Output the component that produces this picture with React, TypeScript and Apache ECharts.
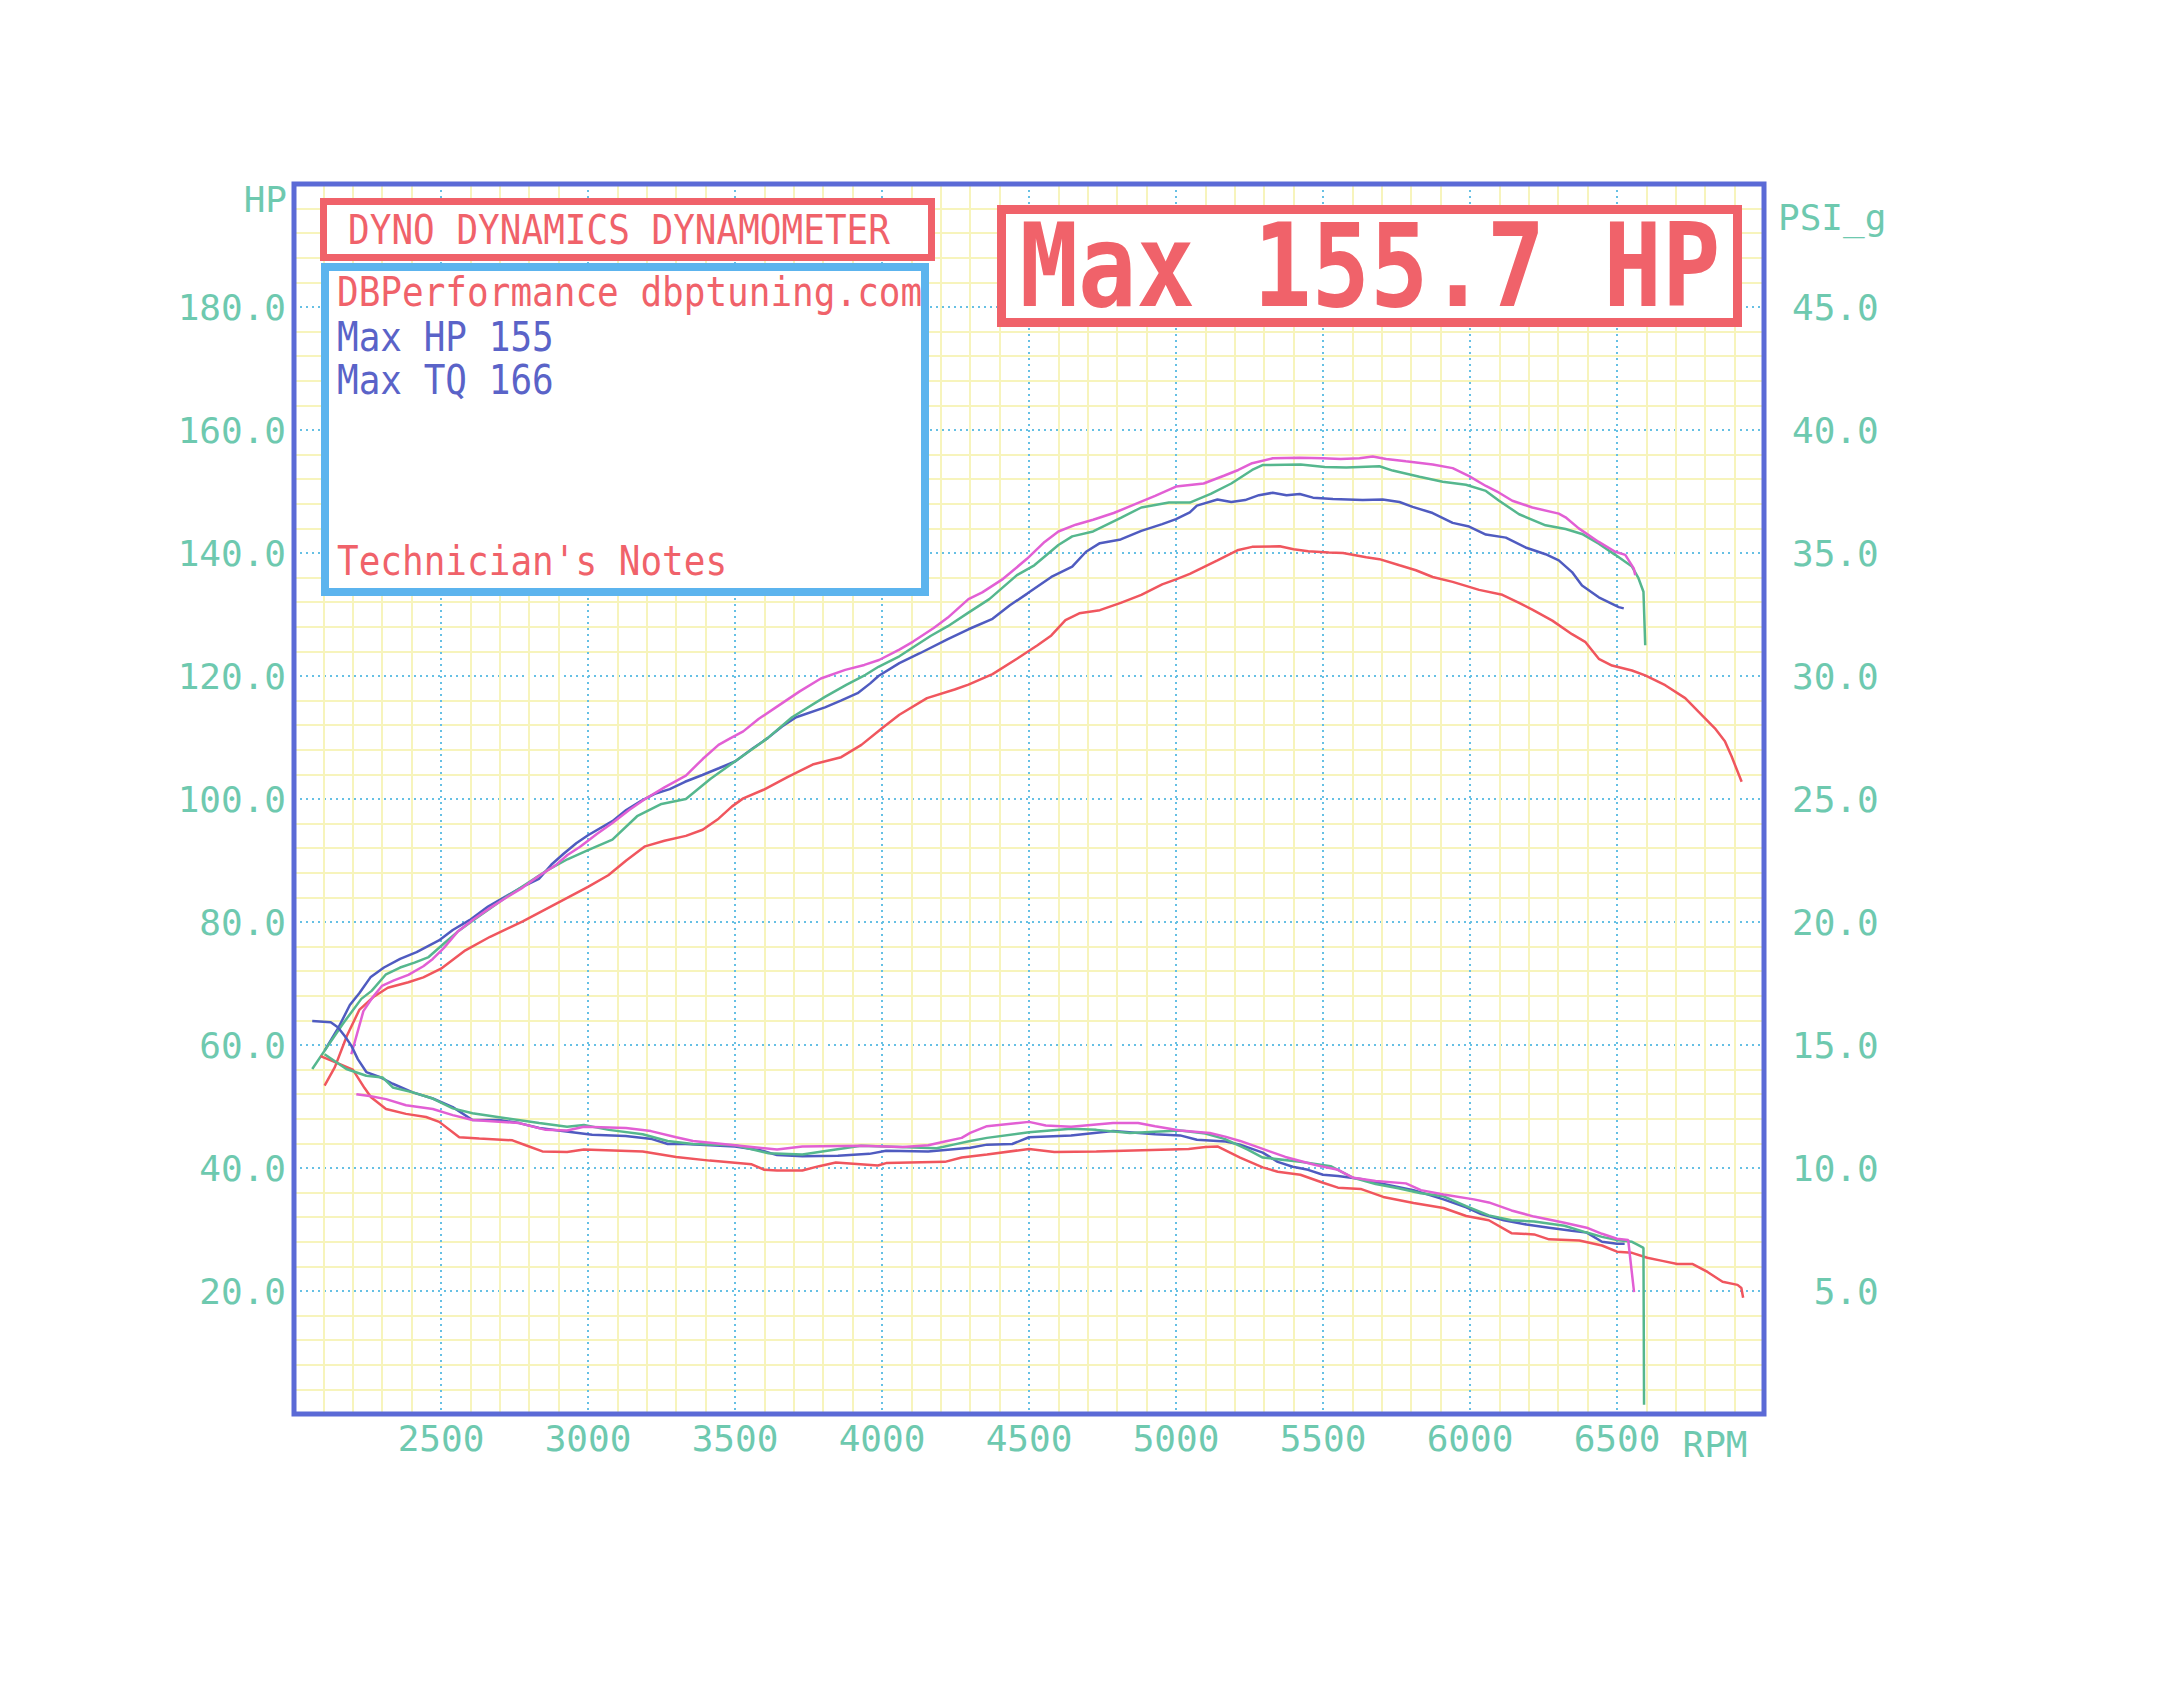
import React, { useEffect, useRef } from "react";
import * as echarts from "echarts";

// ---- Data (rpm, value on HP scale) ----
const magentaPower = [
  [2195, 58.5], [2236, 65.5], [2268, 67.8], [2299, 69.6], [2340, 70.5], [2389, 71.4], [2440, 72.8], [2472, 74.0],
  [2510, 75.8], [2556, 78.4], [2610, 80.4], [2667, 82.3], [2720, 83.9], [2778, 85.6], [2830, 87.4], [2889, 89.2],
  [2930, 90.9], [2972, 92.2], [3030, 94.3], [3083, 96.1], [3140, 98.2], [3194, 100.0], [3260, 101.9], [3333, 103.8],
  [3390, 106.5], [3444, 108.8], [3485, 109.9], [3528, 111.0], [3580, 113.0], [3639, 114.9], [3720, 117.5], [3792, 119.6],
  [3875, 121.0], [3940, 121.8], [3990, 122.6], [4059, 124.3], [4106, 125.6], [4176, 127.8], [4224, 129.5], [4294, 132.5],
  [4341, 133.6], [4412, 135.8], [4494, 139.1], [4553, 141.8], [4600, 143.5], [4659, 144.6], [4718, 145.4], [4788, 146.5],
  [4859, 147.9], [4929, 149.3], [5000, 150.8], [5094, 151.3], [5165, 152.6], [5212, 153.5], [5259, 154.6], [5329, 155.4],
  [5420, 155.5], [5500, 155.4], [5560, 155.3], [5624, 155.4], [5669, 155.7], [5715, 155.3], [5782, 154.9], [5873, 154.4],
  [5941, 153.8], [5997, 152.5], [6054, 150.9], [6099, 149.8], [6144, 148.5], [6212, 147.4], [6302, 146.4], [6325, 145.8],
  [6370, 144.0], [6438, 141.8], [6494, 140.2], [6528, 139.7], [6557, 137.5], [6562, 136.4],
];
const greenPower = [
  [2062, 56.1], [2110, 59.5], [2167, 63.5], [2229, 67.5], [2264, 68.8], [2313, 71.5], [2361, 72.6], [2410, 73.4],
  [2458, 74.3], [2510, 76.5], [2556, 78.4], [2610, 80.3], [2667, 82.2], [2720, 84.0], [2778, 85.8], [2861, 88.4],
  [2930, 90.2], [3000, 91.7], [3083, 93.4], [3167, 97.2], [3250, 99.2], [3333, 100.0], [3417, 103.3], [3514, 106.6],
  [3611, 109.9], [3694, 113.3], [3806, 116.6], [3880, 118.6], [3944, 120.2], [3988, 121.5], [4059, 123.2], [4165, 126.5],
  [4224, 128.1], [4294, 130.3], [4365, 132.5], [4459, 136.4], [4518, 138.0], [4600, 141.3], [4647, 142.7], [4718, 143.5],
  [4812, 145.7], [4882, 147.4], [4976, 148.2], [5047, 148.2], [5118, 149.6], [5188, 151.3], [5259, 153.5], [5294, 154.3],
  [5424, 154.4], [5506, 154.0], [5579, 153.9], [5692, 154.1], [5737, 153.4], [5828, 152.4], [5907, 151.6], [5986, 151.1],
  [6054, 150.1], [6099, 148.5], [6167, 146.3], [6257, 144.5], [6325, 143.9], [6381, 143.1], [6438, 141.5], [6494, 139.7],
  [6551, 137.8], [6573, 135.9], [6590, 133.7], [6596, 125.0],
];
const bluePower = [
  [2104, 59.1], [2153, 63.0], [2190, 66.5], [2222, 68.4], [2260, 71.0], [2306, 72.6], [2361, 74.0], [2417, 75.1],
  [2493, 77.0], [2540, 78.7], [2597, 80.3], [2660, 82.5], [2722, 84.2], [2780, 85.8], [2833, 87.0], [2875, 89.3],
  [2917, 91.1], [2960, 92.8], [3000, 94.1], [3083, 96.4], [3130, 98.2], [3181, 99.7], [3230, 100.9], [3278, 101.6],
  [3330, 102.8], [3389, 103.9], [3445, 105.0], [3500, 106.1], [3560, 108.2], [3611, 109.9], [3660, 111.8], [3708, 113.3],
  [3806, 114.9], [3860, 116.0], [3917, 117.2], [3960, 118.8], [3988, 120.0], [4059, 122.1], [4129, 123.7], [4224, 126.0],
  [4294, 127.6], [4376, 129.3], [4435, 131.5], [4494, 133.4], [4576, 136.1], [4647, 137.8], [4694, 140.2], [4741, 141.6],
  [4812, 142.2], [4882, 143.6], [4953, 144.7], [5000, 145.5], [5047, 146.6], [5071, 147.7], [5141, 148.7], [5188, 148.3],
  [5235, 148.6], [5282, 149.4], [5329, 149.8], [5376, 149.4], [5421, 149.6], [5466, 149.0], [5534, 148.8], [5635, 148.6],
  [5703, 148.7], [5760, 148.3], [5805, 147.5], [5873, 146.5], [5941, 144.9], [5997, 144.3], [6054, 143.0], [6122, 142.5],
  [6189, 140.9], [6257, 139.8], [6302, 138.8], [6347, 136.9], [6381, 134.7], [6438, 132.8], [6506, 131.2], [6523, 131.0],
];
const redPower = [
  [2104, 53.4], [2139, 56.4], [2180, 61.5], [2222, 65.7], [2270, 67.8], [2319, 69.3], [2389, 70.2], [2440, 71.0],
  [2500, 72.4], [2583, 75.4], [2667, 77.6], [2778, 80.1], [2889, 82.9], [3000, 85.7], [3069, 87.6], [3130, 90.0],
  [3194, 92.3], [3260, 93.2], [3333, 94.0], [3390, 95.0], [3444, 96.8], [3490, 98.8], [3528, 100.1], [3597, 101.5],
  [3680, 103.6], [3764, 105.6], [3861, 106.8], [3930, 108.8], [4000, 111.5], [4059, 113.7], [4153, 116.4], [4247, 117.8],
  [4294, 118.6], [4376, 120.3], [4459, 122.8], [4529, 125.0], [4576, 126.6], [4624, 129.1], [4671, 130.2], [4741, 130.7],
  [4812, 131.9], [4882, 133.2], [4953, 134.9], [5000, 135.7], [5047, 136.6], [5094, 137.7], [5141, 138.8], [5212, 140.5],
  [5259, 141.0], [5353, 141.1], [5400, 140.6], [5450, 140.3], [5520, 140.1], [5568, 140.0], [5647, 139.3], [5692, 139.0],
  [5760, 138.0], [5816, 137.2], [5873, 136.1], [5941, 135.3], [6031, 134.0], [6110, 133.2], [6167, 131.9], [6212, 130.8],
  [6280, 129.0], [6347, 126.8], [6393, 125.5], [6438, 122.8], [6483, 121.7], [6551, 120.9], [6596, 120.1], [6664, 118.5],
  [6732, 116.4], [6777, 114.2], [6833, 111.5], [6867, 109.4], [6890, 106.9], [6924, 102.8],
];

const magentaLower = [
  [2212, 52.0], [2257, 51.7], [2313, 51.2], [2381, 50.2], [2472, 49.6], [2540, 48.6], [2607, 47.8], [2766, 47.3],
  [2856, 46.2], [2929, 46.1], [2986, 46.7], [3129, 46.5], [3214, 46.0], [3300, 45.0], [3357, 44.4], [3500, 43.7],
  [3643, 43.0], [3729, 43.5], [3929, 43.6], [4071, 43.4], [4157, 43.7], [4214, 44.3], [4271, 44.9], [4300, 45.7],
  [4357, 46.8], [4500, 47.5], [4557, 46.9], [4643, 46.7], [4786, 47.3], [4871, 47.3], [4929, 46.8], [5014, 46.1],
  [5115, 45.7], [5167, 45.1], [5218, 44.4], [5295, 43.1], [5372, 41.8], [5474, 40.5], [5551, 39.7], [5603, 38.4],
  [5679, 37.9], [5782, 37.5], [5833, 36.4], [5910, 35.7], [6013, 34.9], [6064, 34.4], [6141, 33.1], [6218, 32.1],
  [6321, 31.1], [6397, 30.3], [6449, 29.3], [6500, 28.5], [6538, 28.3], [6558, 19.8],
];
const greenLower = [
  [2104, 58.5], [2178, 56.1], [2246, 55.0], [2302, 54.7], [2336, 53.1], [2404, 52.3], [2472, 51.3], [2540, 49.7],
  [2607, 48.9], [2721, 48.1], [2834, 47.3], [2929, 46.7], [2986, 47.0], [3071, 46.2], [3186, 45.5], [3271, 44.4],
  [3357, 43.9], [3500, 43.7], [3614, 42.4], [3729, 42.2], [3814, 42.8], [3929, 43.6], [4186, 43.2], [4243, 43.8],
  [4300, 44.4], [4357, 44.9], [4500, 45.8], [4643, 46.4], [4729, 46.2], [4843, 45.7], [5014, 46.1], [5100, 45.6],
  [5167, 44.7], [5244, 43.0], [5295, 41.7], [5423, 41.0], [5526, 40.3], [5603, 38.4], [5679, 37.4], [5756, 36.7],
  [5833, 35.9], [5910, 35.4], [5987, 33.8], [6064, 32.3], [6141, 31.5], [6218, 31.3], [6321, 30.6], [6397, 29.5],
  [6449, 28.8], [6500, 28.3], [6551, 28.0], [6571, 27.5], [6590, 27.0], [6592, 1.5],
];
const blueLower = [
  [2062, 63.9], [2125, 63.7], [2149, 62.9], [2172, 61.5], [2195, 59.9], [2217, 57.7], [2246, 55.6], [2291, 54.8],
  [2336, 53.7], [2404, 52.3], [2472, 51.3], [2540, 49.9], [2607, 47.8], [2698, 47.8], [2766, 47.3], [2834, 46.5],
  [2913, 46.0], [3014, 45.4], [3128, 45.2], [3218, 44.7], [3271, 43.9], [3331, 43.9], [3500, 43.5], [3586, 42.9],
  [3643, 42.1], [3729, 41.9], [3850, 42.0], [3957, 42.3], [4014, 42.8], [4157, 42.7], [4300, 43.3], [4357, 43.8],
  [4443, 43.9], [4500, 45.0], [4643, 45.3], [4786, 46.0], [4929, 45.5], [5014, 45.3], [5071, 44.6], [5169, 44.3],
  [5218, 43.8], [5295, 42.5], [5346, 41.0], [5397, 40.2], [5449, 39.7], [5500, 38.9], [5551, 38.7], [5628, 38.2],
  [5705, 37.4], [5808, 36.4], [5910, 34.9], [5987, 33.6], [6038, 32.5], [6115, 31.5], [6192, 30.8], [6269, 30.3],
  [6346, 29.8], [6397, 29.5], [6449, 28.0], [6500, 27.7], [6526, 27.7],
];
const redLower = [
  [2090, 58.2], [2150, 57.0], [2200, 56.0], [2240, 53.0], [2262, 51.5], [2313, 49.6], [2381, 48.8], [2449, 48.3],
  [2494, 47.5], [2562, 45.0], [2630, 44.8], [2743, 44.5], [2788, 43.7], [2845, 42.7], [2929, 42.6], [2986, 43.0],
  [3186, 42.7], [3300, 41.8], [3414, 41.2], [3557, 40.6], [3600, 39.7], [3643, 39.6], [3729, 39.6], [3786, 40.3],
  [3843, 40.9], [3986, 40.4], [4014, 40.8], [4214, 41.0], [4271, 41.7], [4357, 42.2], [4500, 43.1], [4586, 42.6],
  [4729, 42.7], [5043, 43.1], [5100, 43.4], [5141, 43.5], [5218, 41.7], [5295, 40.1], [5346, 39.4], [5423, 38.9],
  [5500, 37.6], [5551, 36.8], [5628, 36.6], [5705, 35.3], [5808, 34.3], [5910, 33.5], [5987, 32.2], [6064, 31.5],
  [6141, 29.4], [6218, 29.2], [6269, 28.4], [6372, 28.2], [6449, 27.4], [6500, 26.4], [6551, 26.2], [6603, 25.4],
  [6654, 24.9], [6705, 24.4], [6756, 24.4], [6808, 23.1], [6859, 21.5], [6910, 21.0], [6923, 20.5], [6929, 18.9],
];

const infoLines = ["DBPerformance dbptuning.com", "Max HP 155", "Max TQ 166", "Technician's Notes"];
const titleText = "DYNO DYNAMICS DYNAMOMETER";
const maxText = "Max 155.7 HP";

// ---- Style ----
const MONO = '"DejaVu Sans Mono", "Liberation Mono", monospace';
const TEAL = "#6ec9af";
const RED = "#f0626a";
const BLUE_TXT = "#5a63c8";
const FRAME = "#5b6ad6";
const BOX_BLUE = "#5cb4ee";
const MAJOR = "#66c0e4";
const MINOR = "#f7f4bc";
const C_MAG = "#e25fd4";
const C_GRN = "#55b78e";
const C_BLU = "#4f5bc0";
const C_RED = "#f0565e";
const GRID = { left: 294, top: 184, width: 1470, height: 1230 };

function txt(text: string, x: number, y: number, size: number, color: string, align: string, sy = 1, weight = "normal") {
  return {
    type: "text",
    z: 70,
    x,
    y,
    scaleY: sy,
    style: {
      text,
      fill: color,
      fontFamily: MONO,
      fontSize: size,
      fontWeight: weight,
      textAlign: align,
      align,
      textVerticalAlign: "middle",
      verticalAlign: "middle",
    },
  };
}

export default function App() {
  const ref = useRef<HTMLDivElement>(null);
  useEffect(() => {
    if (!ref.current) return;
    const chart = echarts.init(ref.current, undefined, { renderer: "svg" });
    const line = (name: string, data: number[][], color: string) => ({
      name,
      type: "line",
      data,
      showSymbol: false,
      symbol: "none",
      lineStyle: { color, width: 2.5 },
      itemStyle: { color },
      z: 5,
    });
    chart.setOption({
      animation: false,
      backgroundColor: "#ffffff",
      grid: { ...GRID, show: false },
      xAxis: {
        type: "value",
        min: 2000,
        max: 7000,
        interval: 500,
        axisLine: { show: false },
        axisTick: { show: false },
        axisLabel: {
          color: TEAL,
          fontFamily: MONO,
          fontSize: 36,
          margin: 6,
          showMinLabel: false,
          showMaxLabel: false,
          formatter: (v: number) => String(v),
        },
        splitLine: { show: true, lineStyle: { color: MAJOR, width: 2, type: [2, 4] } },
        minorTick: { show: false, splitNumber: 5 },
        minorSplitLine: { show: true, lineStyle: { color: MINOR, width: 2 } },
      },
      yAxis: [
        {
          type: "value",
          min: 0,
          max: 200,
          interval: 20,
          position: "left",
          axisLine: { show: false },
          axisTick: { show: false },
          axisLabel: {
            color: TEAL,
            fontFamily: MONO,
            fontSize: 36,
            margin: 8,
            showMinLabel: false,
            showMaxLabel: false,
            formatter: (v: number) => v.toFixed(1),
          },
          splitLine: { show: true, lineStyle: { color: MAJOR, width: 2, type: [2, 4] } },
          minorTick: { show: false, splitNumber: 5 },
          minorSplitLine: { show: true, lineStyle: { color: MINOR, width: 2 } },
        },
        {
          type: "value",
          min: 0,
          max: 50,
          interval: 5,
          position: "right",
          axisLine: { show: false },
          axisTick: { show: false },
          axisLabel: {
            color: TEAL,
            fontFamily: MONO,
            fontSize: 36,
            margin: 28,
            showMinLabel: false,
            showMaxLabel: false,
            formatter: (v: number) => v.toFixed(1).padStart(4, " "),
          },
          splitLine: { show: false },
        },
      ],
      series: [
        line("Run 4 HP", redPower, C_RED),
        line("Run 3 HP", bluePower, C_BLU),
        line("Run 2 HP", greenPower, C_GRN),
        line("Run 1 HP", magentaPower, C_MAG),
        line("Run 4 lower", redLower, C_RED),
        line("Run 3 lower", blueLower, C_BLU),
        line("Run 2 lower", greenLower, C_GRN),
        line("Run 1 lower", magentaLower, C_MAG),
      ],
      graphic: [
        {
          type: "rect",
          z: 80,
          shape: { x: GRID.left, y: GRID.top, width: GRID.width, height: GRID.height },
          style: { fill: "none", stroke: FRAME, lineWidth: 5 },
        },
        {
          type: "rect",
          z: 60,
          shape: { x: 323.5, y: 201.5, width: 608, height: 56 },
          style: { fill: "#ffffff", stroke: RED, lineWidth: 7 },
        },
        {
          type: "rect",
          z: 60,
          shape: { x: 325, y: 267, width: 600, height: 325 },
          style: { fill: "#ffffff", stroke: BOX_BLUE, lineWidth: 8 },
        },
        {
          type: "rect",
          z: 60,
          shape: { x: 1001.5, y: 209.5, width: 736, height: 113 },
          style: { fill: "#ffffff", stroke: RED, lineWidth: 9 },
        },
        txt(titleText, 619, 230, 36, RED, "center", 1.12),
        txt(infoLines[0], 337, 292, 36, RED, "left", 1.12),
        txt(infoLines[1], 337, 337, 36, BLUE_TXT, "left", 1.12),
        txt(infoLines[2], 337, 380, 36, BLUE_TXT, "left", 1.12),
        txt(infoLines[3], 337, 561, 36, RED, "left", 1.12),
        txt(maxText, 1370, 266, 97, RED, "center", 1.2, "bold"),
        txt("HP", 287, 199, 36, TEAL, "right"),
        txt("PSI_g", 1778, 217, 36, TEAL, "left"),
        txt("RPM", 1715, 1444, 36, TEAL, "center"),
      ],
    });
    return () => chart.dispose();
  }, []);
  return (
    <div
      ref={ref}
      style={{ position: "fixed", left: 0, top: 0, width: 2172, height: 1696, background: "#ffffff" }}
    />
  );
}
